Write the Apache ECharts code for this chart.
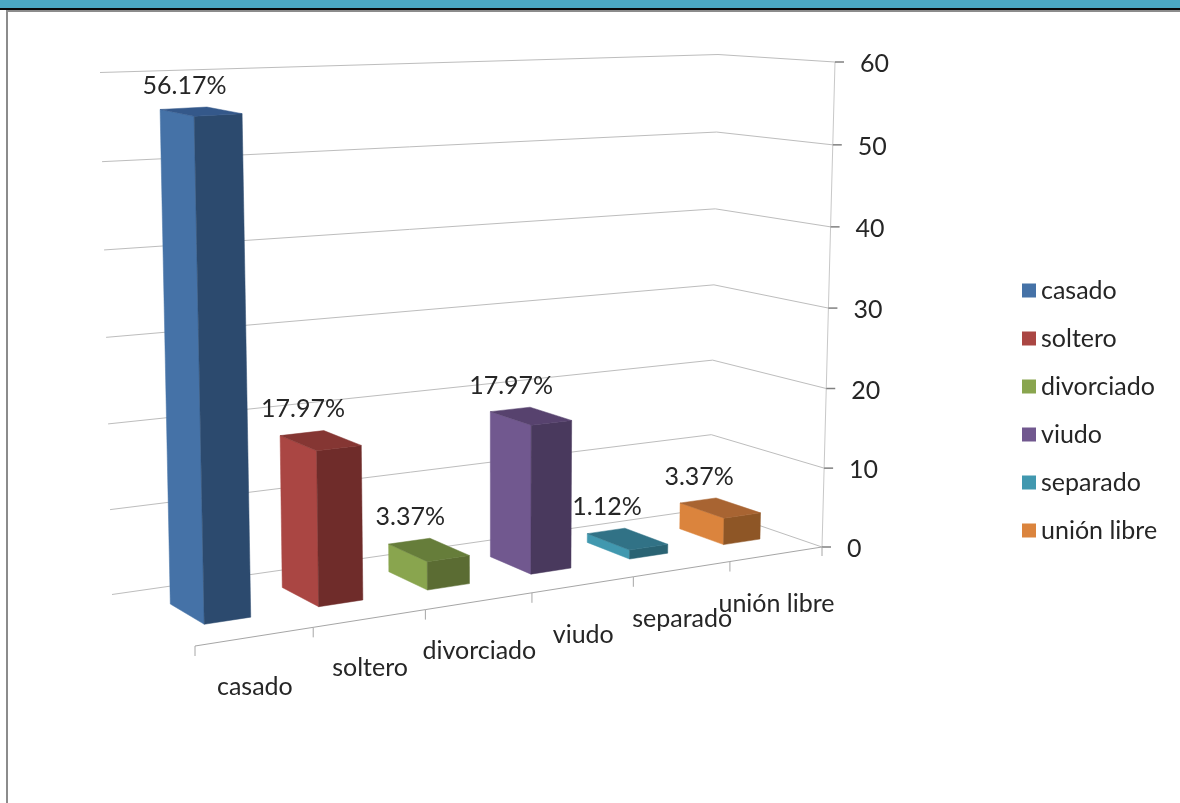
<!DOCTYPE html>
<html><head><meta charset="utf-8">
<style>html,body{margin:0;padding:0;background:#fff}#c{width:1180px;height:803px}</style>
<script src="https://cdn.jsdelivr.net/npm/echarts@6/dist/echarts.min.js"></script>
</head><body><div id="c"></div>
<script>
const categories = ['casado','soltero','divorciado','viudo','separado','unión libre'];
const values = [56.17, 17.97, 3.37, 17.97, 1.12, 3.37];
const dataLabels = ['56.17%','17.97%','3.37%','17.97%','1.12%','3.37%'];
const valueTicks = [0,10,20,30,40,50,60];
const sideColors  = ['#4572A7','#AA4643','#89A54E','#71588F','#4198AF','#DB843D'];
const frontColors = ['#2C4A6E','#6F2C2A','#5B6C33','#49395D','#2A6373','#8E5626'];
const topColors   = ['#34588A','#853633','#667D3A','#57426E','#317286','#A86432'];

const FONT = '"Lato","Open Sans",sans-serif';
const TEXT = '#262626';
function homography(q){
  const [x0,y0]=q[0],[x1,y1]=q[1],[x2,y2]=q[2],[x3,y3]=q[3];
  const dx1=x1-x2,dx2=x3-x2,sx=x0-x1+x2-x3,dy1=y1-y2,dy2=y3-y2,sy=y0-y1+y2-y3;
  const den=dx1*dy2-dx2*dy1,g=(sx*dy2-dx2*sy)/den,h=(dx1*sy-sx*dy1)/den;
  const a=x1-x0+g*x1,b=x3-x0+h*x3,d=y1-y0+g*y1,e=y3-y0+h*y3;
  return (u,w)=>{const n=g*u+h*w+1;return [(a*u+b*w+x0)/n,(d*u+e*w+y0)/n];};
}
// Camera of the 3D box: floor quad, and the full-height vector at its four corners
// (front-left, front-right, back-right, back-left)
const floorAt = homography([[195,646],[822,547],[710,508.5],[112,594.5]]);
const riseAt = [[-12,-558],[13,-485],[8,-454],[-12,-522]];
const K = 1.03;
function project(u,w,t){
  const a=floorAt(u,w),s=t/(t+K*(1-t));
  const mix=j=>(1-w)*((1-u)*riseAt[0][j]+u*riseAt[1][j])+w*((1-u)*riseAt[3][j]+u*riseAt[2][j]);
  return [a[0]+mix(0)*s,a[1]+mix(1)*s];
}
// Read plot fractions through the hidden axes' own scales
function fractions(params,api,c,v){
  const r=params.coordSys,p=api.coord([c,v]);
  return {u:(p[0]-r.x)/r.width,t:(r.y+r.height-p[1])/r.height,band:api.size([1,0])[0]/r.width};
}
const line=(a,b,color,width)=>({type:'line',shape:{x1:a[0],y1:a[1],x2:b[0],y2:b[1]},style:{stroke:color,lineWidth:width}});
const poly=(pts,fill)=>({type:'polygon',shape:{points:pts},style:{fill,stroke:fill,lineWidth:0.5}});
const text=(s,x,y,align,size)=>({type:'text',style:{text:s,x,y,align,verticalAlign:'middle',font:size+'px '+FONT,fill:TEXT}});

const BAR=0.40, W0=0.30, W1=0.70;
function renderBar(params,api){
  const i=api.value(0),f=fractions(params,api,i,api.value(1));
  const u0=f.u-f.band*BAR/2,u1=f.u+f.band*BAR/2,t=f.t;
  const L0=project(u0,W1,0),F0=project(u0,W0,0),R0=project(u1,W0,0);
  const L=project(u0,W1,t),F=project(u0,W0,t),R=project(u1,W0,t),B=project(u1,W1,t);
  return {type:'group',children:[
    poly([L0,F0,F,L],sideColors[i]),
    poly([F0,R0,R,F],frontColors[i]),
    poly([L,F,R,B],topColors[i]),
    text(dataLabels[i],(L[0]+B[0])/2+1,B[1]-21.5,'center',25)
  ]};
}
function renderGrid(params,api){
  const v=api.value(1),t=fractions(params,api,0,v).t;
  const a=project(0,1,t),b=project(1,1,t),c=project(1,0,t);
  return {type:'group',children:[
    line(a,b,'#BDBDBD',1),line(b,c,'#BDBDBD',1),
    line(c,[c[0]+9,c[1]],'#808080',1.5),
    text(String(v),c[0]+25,c[1]+2,'left',25)
  ]};
}
function renderCat(params,api){
  const i=api.value(0),f=fractions(params,api,i,0);
  const a=project(f.u-f.band/2,0,0),b=project(f.u+f.band/2,0,0),m=project(f.u,0,0);
  const kids=[line(a,b,'#A6A6A6',1),line(a,[a[0],a[1]+10],'#A6A6A6',1),text(categories[i],m[0],m[1]+50,'center',25)];
  if(i===categories.length-1) kids.push(line(b,[b[0],b[1]+9],'#A6A6A6',1));
  return {type:'group',children:kids};
}
function renderWall(params,api){
  return line(project(1,0,0),project(1,0,1),'#C8C8C8',1);
}
const barSeries=categories.map((name,i)=>({
  type:'custom',name,coordinateSystem:'cartesian2d',clip:false,z:5,silent:true,
  itemStyle:{color:sideColors[i]},encode:{x:0,y:1},
  data:[[i,values[i]]],renderItem:renderBar
}));
const chart=echarts.init(document.getElementById('c'),null,{renderer:'canvas'});
chart.setOption({
  animation:false,backgroundColor:'#fff',
  grid:{left:100,right:350,top:60,bottom:260},
  xAxis:{type:'category',data:categories,show:false},
  yAxis:{type:'value',min:0,max:60,interval:10,show:false},
  legend:{orient:'vertical',left:1017,top:273,itemWidth:14,itemHeight:14,itemGap:23,selectedMode:false,
    data:categories,icon:'rect',textStyle:{fontFamily:FONT,fontSize:25,color:TEXT}},
  graphic:[
    {type:'rect',shape:{x:0,y:0,width:1180,height:8},style:{fill:'#4BA9C4'},silent:true},
    {type:'rect',shape:{x:0,y:8,width:1180,height:2},style:{fill:'#0A0A0A'},silent:true},
    {type:'rect',shape:{x:6,y:10,width:1174,height:2},style:{fill:'#8C8C8C'},silent:true},
    {type:'rect',shape:{x:6,y:10,width:2,height:793},style:{fill:'#8C8C8C'},silent:true}
  ],
  series:[
    {type:'custom',name:'wall',coordinateSystem:'cartesian2d',clip:false,silent:true,z:1,encode:{x:0,y:1},data:[[0,0]],renderItem:renderWall},
    {type:'custom',name:'grid',coordinateSystem:'cartesian2d',clip:false,silent:true,z:2,encode:{x:0,y:1},data:valueTicks.map(v=>[0,v]),renderItem:renderGrid},
    {type:'custom',name:'axis',coordinateSystem:'cartesian2d',clip:false,silent:true,z:2,encode:{x:0,y:1},data:categories.map((c,i)=>[i,0]),renderItem:renderCat}
  ].concat(barSeries)
});
</script></body></html>
